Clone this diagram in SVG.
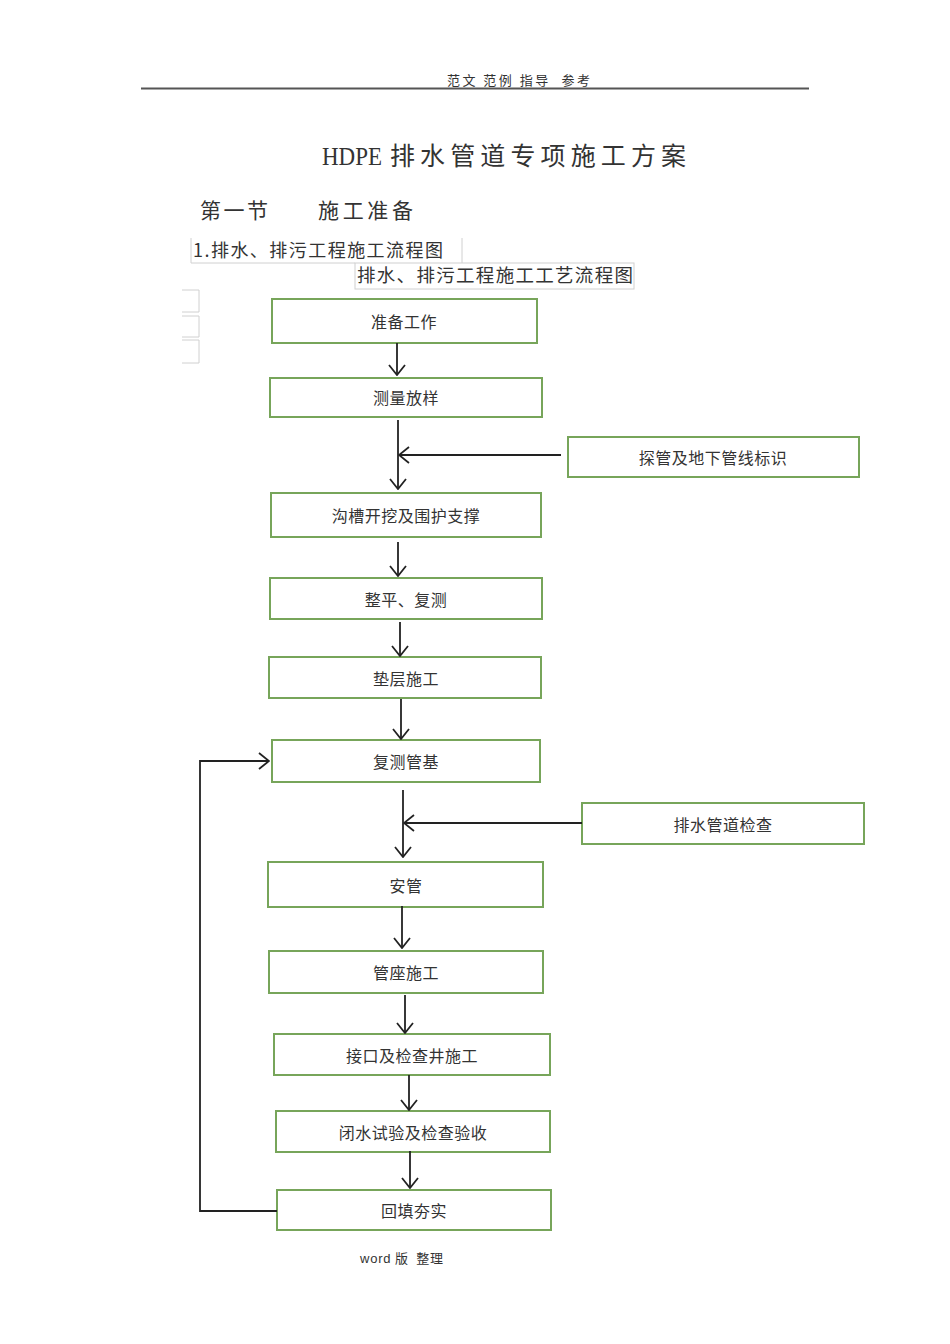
<svg xmlns="http://www.w3.org/2000/svg" width="950" height="1344" viewBox="0 0 950 1344">
<style>
text{font-family:"Noto Sans CJK SC","Noto Sans",sans-serif;fill:#333}
.node rect{fill:#fff;stroke:#77a55a;stroke-width:2}
.node text{font-size:16px;text-anchor:middle;dominant-baseline:central;letter-spacing:0.5px}
.lbl{fill:none;stroke:#d0d0d0;stroke-width:1}
.conn path{fill:none;stroke:#222;stroke-width:1.8}
</style>
<defs>
<marker id="arr" viewBox="0 0 12 18" refX="11" refY="9" markerWidth="12" markerHeight="18" markerUnits="userSpaceOnUse" orient="auto">
<polyline points="1,1 11,9 1,17" fill="none" stroke="#222" stroke-width="1.8"/>
</marker>
</defs>
<rect width="950" height="1344" fill="#fff"/>
<g id="header">
<text x="447" y="85" font-size="13" fill="#444" xml:space="preserve" textLength="143" lengthAdjust="spacing">范文 范例 指导  参考</text>
<line x1="141" y1="88.5" x2="809" y2="88.5" stroke="#555" stroke-width="2"/>
</g>
<g id="title">
<text x="322" y="165" font-size="25" fill="#222"><tspan font-family="Liberation Serif,serif" textLength="60" lengthAdjust="spacingAndGlyphs">HDPE</tspan><tspan x="390" textLength="296" lengthAdjust="spacing">排水管道专项施工方案</tspan></text>
<text x="200" y="218" font-size="21" fill="#222" textLength="68" lengthAdjust="spacing">第一节</text>
<text x="318" y="218" font-size="21" fill="#222" textLength="95" lengthAdjust="spacing">施工准备</text>
</g>
<g id="labels">
<path class="lbl" d="M191,238 V263 H355 M462,238 V263"/>
<text x="193" y="257" font-size="18" fill="#222" textLength="250" lengthAdjust="spacing">1.排水、排污工程施工流程图</text>
<rect class="lbl" x="355" y="263" width="279" height="26"/>
<text x="357" y="282" font-size="18.5" fill="#222" textLength="276" lengthAdjust="spacing">排水、排污工程施工工艺流程图</text>
<path class="lbl" d="M182,290 H199 V312 H182 M182,316 H199 V337 H182 M182,340 H199 V363 H182"/>
</g>
<g id="n1" class="node"><rect x="272" y="299" width="265" height="44"/><text x="404" y="321">准备工作</text></g>
<g id="n2" class="node"><rect x="270" y="378" width="272" height="39"/><text x="406" y="397">测量放样</text></g>
<g id="n3" class="node"><rect x="568" y="437" width="291" height="40"/><text x="713" y="457">探管及地下管线标识</text></g>
<g id="n4" class="node"><rect x="271" y="493" width="270" height="44"/><text x="406" y="515">沟槽开挖及围护支撑</text></g>
<g id="n5" class="node"><rect x="270" y="578" width="272" height="41"/><text x="406" y="599">整平、复测</text></g>
<g id="n6" class="node"><rect x="269" y="657" width="272" height="41"/><text x="406" y="678">垫层施工</text></g>
<g id="n7" class="node"><rect x="272" y="740" width="268" height="42"/><text x="406" y="761">复测管基</text></g>
<g id="n8" class="node"><rect x="582" y="803" width="282" height="41"/><text x="723" y="824">排水管道检查</text></g>
<g id="n9" class="node"><rect x="268" y="862" width="275" height="45"/><text x="406" y="885">安管</text></g>
<g id="n10" class="node"><rect x="269" y="951" width="274" height="42"/><text x="406" y="972">管座施工</text></g>
<g id="n11" class="node"><rect x="274" y="1034" width="276" height="41"/><text x="412" y="1055">接口及检查井施工</text></g>
<g id="n12" class="node"><rect x="276" y="1111" width="274" height="41"/><text x="413" y="1132">闭水试验及检查验收</text></g>
<g id="n13" class="node"><rect x="277" y="1190" width="274" height="40"/><text x="414" y="1210">回填夯实</text></g>
<g id="connectors" class="conn">
<path d="M397,343 V375" marker-end="url(#arr)"/>
<path d="M398,420 V489" marker-end="url(#arr)"/>
<path d="M561,455 H399" marker-end="url(#arr)"/>
<path d="M398,542 V576" marker-end="url(#arr)"/>
<path d="M400,622 V656" marker-end="url(#arr)"/>
<path d="M401,699 V739" marker-end="url(#arr)"/>
<path d="M403,790 V857" marker-end="url(#arr)"/>
<path d="M582,823 H404" marker-end="url(#arr)"/>
<path d="M402,906 V948" marker-end="url(#arr)"/>
<path d="M405,995 V1033" marker-end="url(#arr)"/>
<path d="M409,1075 V1110" marker-end="url(#arr)"/>
<path d="M410,1151 V1188" marker-end="url(#arr)"/>
<path d="M277,1211 H200 V761 H269" marker-end="url(#arr)"/>
</g>
<g id="footer">
<text x="360" y="1263" font-size="13" fill="#222" xml:space="preserve" textLength="83" lengthAdjust="spacing"><tspan font-family="Liberation Sans,sans-serif">word</tspan> 版  整理</text>
</g>
</svg>
